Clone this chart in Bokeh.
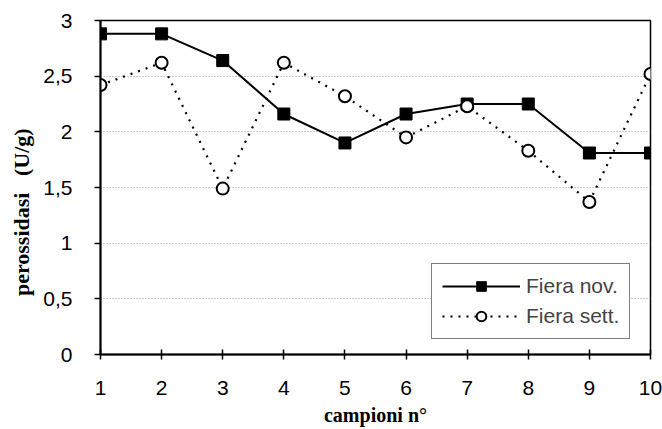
from bokeh.plotting import figure
from bokeh.models import Range1d, Legend, LegendItem, FixedTicker
from bokeh.embed import file_html
from bokeh.resources import INLINE

campioni = [1, 2, 3, 4, 5, 6, 7, 8, 9, 10]
fiera_nov = [2.88, 2.88, 2.64, 2.16, 1.90, 2.16, 2.25, 2.25, 1.81, 1.81]
fiera_sett = [2.42, 2.62, 1.49, 2.62, 2.32, 1.95, 2.23, 1.83, 1.37, 2.52]
y_ticks = [0, 0.5, 1, 1.5, 2, 2.5, 3]
y_tick_labels = ["0", "0,5", "1", "1,5", "2", "2,5", "3"]

p = figure(width=662, height=429, output_backend="svg", toolbar_location=None,
           x_range=Range1d(1, 10), y_range=Range1d(0, 3))
p.min_border_left = 100
p.min_border_right = 12
p.min_border_top = 20
p.min_border_bottom = 75
p.background_fill_color = "white"
p.border_fill_color = "white"
p.outline_line_color = "black"
p.outline_line_width = 1.5

r1 = p.line(campioni, fiera_nov, line_color="black", line_width=2)
s1 = p.scatter(campioni, fiera_nov, marker="square", size=12, fill_color="black", line_color="black")
r2 = p.line(campioni, fiera_sett, line_color="black", line_width=2.2, line_dash="2 6")
s2 = p.scatter(campioni, fiera_sett, marker="circle", size=12, fill_color="white", line_color="black", line_width=2)

legend = Legend(items=[LegendItem(label="Fiera nov.", renderers=[r1, s1]),
                       LegendItem(label="Fiera sett.", renderers=[r2, s2])],
                location=(331, 15))
legend.border_line_color = "black"
legend.border_line_width = 1.5
legend.label_text_font = "Liberation Sans"
legend.label_text_font_size = "21px"
legend.glyph_width = 78
legend.glyph_height = 24
legend.spacing = 6
legend.padding = 10
legend.margin = 0
legend.label_standoff = 6
p.add_layout(legend)

p.xaxis.ticker = FixedTicker(ticks=campioni)
p.yaxis.ticker = FixedTicker(ticks=y_ticks)
p.yaxis.major_label_overrides = {t: l for t, l in zip(y_ticks, y_tick_labels)}

for ax in (p.xaxis, p.yaxis):
    ax.axis_line_color = "black"
    ax.axis_line_width = 2
    ax.major_tick_line_color = "black"
    ax.major_tick_line_width = 1.5
    ax.minor_tick_line_color = None
    ax.major_label_text_font = "Liberation Sans"
    ax.major_label_text_font_size = "21px"
    ax.major_label_text_color = "black"
    ax.axis_label_text_font = "Liberation Serif"
    ax.axis_label_text_font_style = "bold"
    ax.axis_label_text_color = "black"

p.xaxis.axis_label_text_font_size = "20px"
p.yaxis.axis_label_text_font_size = "22px"
p.xaxis.major_tick_in = 5
p.xaxis.major_tick_out = 5
p.yaxis.major_tick_in = 0
p.yaxis.major_tick_out = 6
p.xaxis.major_label_standoff = 21
p.yaxis.major_label_standoff = 22
p.xaxis.axis_label_standoff = 6
p.yaxis.axis_label_standoff = 6
p.xaxis.axis_label = "campioni n°"
p.yaxis.axis_label = "perossidasi\u00a0\u00a0\u00a0(U/g)" + "\u00a0" * 9

p.xgrid.grid_line_color = None
p.ygrid.grid_line_color = "#999999"
p.ygrid.grid_line_dash = "1 2"
p.ygrid.grid_line_width = 1

open("out.html", "w").write(file_html(p, INLINE))
